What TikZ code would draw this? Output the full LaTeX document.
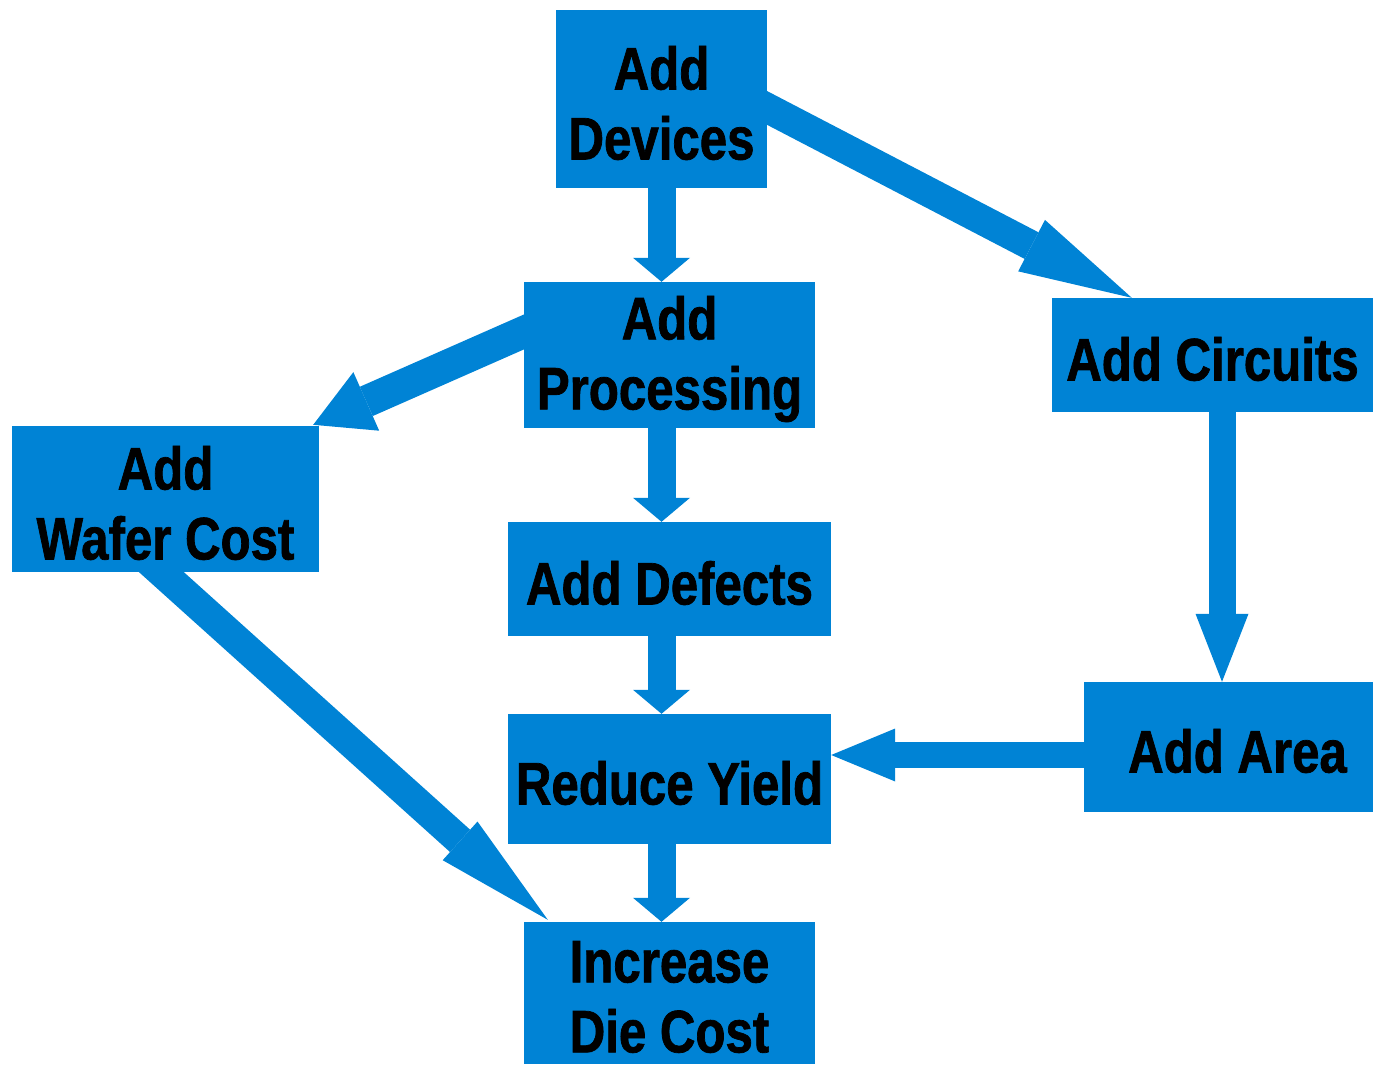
\documentclass[tikz,border=0pt]{standalone}
\usepackage{fontspec}
\setmainfont{Liberation Sans}[FakeStretch=0.82]
\newfontfamily\boxfont{Liberation Sans}[FakeStretch=0.82,FakeBold=1.2]
\usetikzlibrary{arrows.meta,calc}
\definecolor{boxblue}{RGB}{0,131,213}
\pgfdeclarelayer{background}
\pgfsetlayers{background,main}
\begin{document}
\begin{tikzpicture}[x=1pt,y=-1pt,
  txt/.style={inner sep=0pt, align=center, yshift=-4pt,
    font=\fontsize{60}{70}\selectfont\boxfont\bfseries, text=black},
  box/.style={fill=boxblue, inner sep=0pt, label={[txt]center:{#1}}},
  arr/.style n args={3}{draw=boxblue, line width=#1,
    -{Triangle[length=#2,width=#3,line width=0pt]}}]
\useasboundingbox (0,0) rectangle (1374,1065);
% boxes
\node[box={Add\\Devices}, minimum width=211pt, minimum height=178pt] (dev) at (661.5,99) {};
\node[box={Add\\Processing}, minimum width=291pt, minimum height=146pt] (proc) at (669.5,355) {};
\node[box={Add Circuits}, minimum width=321pt, minimum height=114pt] (circ) at (1212.5,355) {};
\node[box={Add\\Wafer Cost}, minimum width=307pt, minimum height=146pt] (wafer) at (165.5,499) {};
\node[box={Add Defects}, minimum width=323pt, minimum height=114pt] (def) at (669.5,579) {};
\node[box={\hspace*{18pt}Add Area}, minimum width=289pt, minimum height=130pt] (area) at (1228.5,747) {};
\node[box={Reduce Yield}, minimum width=323pt, minimum height=130pt] (yield) at (669.5,779) {};
\node[box={Increase\\Die Cost}, minimum width=291pt, minimum height=142pt] (cost) at (669.5,993) {};
\begin{pgfonlayer}{background}
% vertical connectors
\draw[arr={28pt}{24pt}{57pt}] (dev.south) -- (dev.south |- proc.north);
\draw[arr={28pt}{24pt}{57pt}] (dev.south |- proc.south) -- (dev.south |- def.north);
\draw[arr={28pt}{24pt}{57pt}] (dev.south |- def.south) -- (dev.south |- yield.north);
\draw[arr={28pt}{24pt}{57pt}] (dev.south |- yield.south) -- (dev.south |- cost.north);
% right side
\coordinate (c1) at ($(circ.south)+(9.5,0)$);
\draw[arr={27pt}{68pt}{53pt}] (c1) -- (c1 |- area.north);
\coordinate (a1) at ($(area.west)+(0,8)$);
\draw[arr={26pt}{64pt}{53pt}] (a1) -- (a1 -| yield.east);
% diagonals (started inside the source box, which covers the start)
\coordinate (s1) at ($(dev.east)+(0,9)$);
\coordinate (t1) at ($(circ.north west)+(80,0)$);
\draw[arr={30pt}{113pt}{58pt}] ($(s1)!-0.1!(t1)$) -- (t1);
\coordinate (s2) at ($(proc.west)+(0,-23)$);
\coordinate (t2) at ($(wafer.north east)+(-6,-1)$);
\draw[arr={32pt}{58pt}{64pt}] ($(s2)!-0.15!(t2)$) -- (t2);
\coordinate (s3) at ($(wafer.south)+(-4,0)$);
\coordinate (t3) at ($(cost.north west)+(24,-2)$);
\draw[arr={30pt}{118pt}{52pt}] ($(s3)!-0.08!(t3)$) -- (t3);
\end{pgfonlayer}
\end{tikzpicture}
\end{document}
